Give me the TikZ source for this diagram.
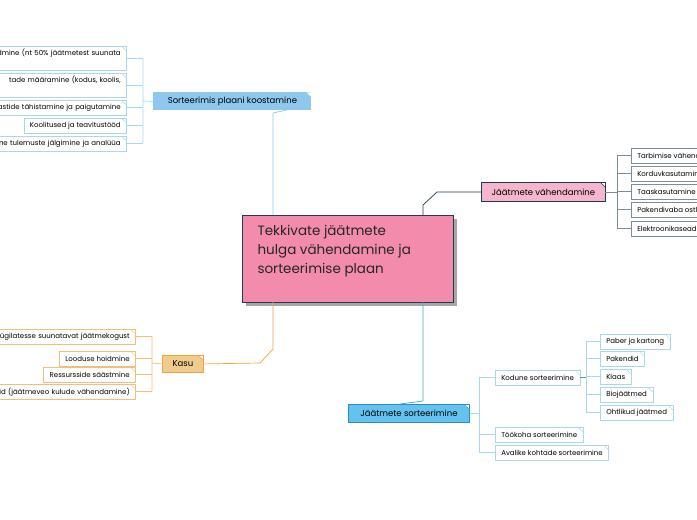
\documentclass[tikz,border=0pt]{standalone}
\usepackage{fontspec}
\setmainfont{Poppins}
\begin{document}
\begin{tikzpicture}[x=1pt,y=-1pt,
  fold/.style={path picture={
    \fill[white] ([xshift=-5pt]path picture bounding box.north east) -- (path picture bounding box.north east) -- ([yshift=-5pt]path picture bounding box.north east) -- cycle;
    \draw[#1,line width=0.5pt] ([xshift=-5pt]path picture bounding box.north east) -- ([yshift=-5pt]path picture bounding box.north east);}},
  leaf/.style={draw=#1,fill=white,line width=0.6pt,font=\fontsize{7}{9}\selectfont,minimum height=15,inner xsep=6,inner ysep=2,fold=#1},
  cut/.style={text width=#1,align=right},
  mid/.style={font=\fontsize{8.5}{10}\selectfont,minimum height=18,inner xsep=10,line width=0.8pt},
  con/.style={line width=0.7pt}]
\useasboundingbox (0,0) rectangle (697,520);
\definecolor{lb}{HTML}{A9D8EE}\definecolor{or}{HTML}{F2A040}
\definecolor{dk}{HTML}{1F3B52}\definecolor{tl}{HTML}{3AA7C8}\definecolor{gr}{HTML}{7A8E99}
% central
\fill[gray!70] (246,219) rectangle (457,306);
\node[draw=dk,fill={rgb,255:red,242;green,139;blue,172},line width=0.8pt,minimum width=211,minimum height=87,anchor=north west,inner sep=0] (c) at (242,215) {};
\node[anchor=north west,align=left,font=\fontsize{13.5}{19}\selectfont,text=black!85] (ct) at (254,222) {Tekkivate jäätmete\\hulga vähendamine ja\\sorteerimise plaan};
% Sorteerimis
\node[mid,fill={rgb,255:red,142;green,200;blue,238},fold=lb,anchor=north west,minimum width=158] (s) at (153,92) {Sorteerimis plaani koostamine};
\draw[con,color={rgb,255:red,142;green,200;blue,238}] (273,215) -- (273,113) -- (287,110);
\foreach \n/\y/\h/\w/\t in {s1/46/24/150/{admine (nt 50\% jäätmetest suunata\\\strut},s2/73/24/150/{tade määramine (kodus, koolis,\\\strut},s3/100/15/150/{kastide tähistamine ja paigutamine},s5/136/15/150/{arne tulemuste jälgimine ja analüüa}}{
  \node[leaf=lb,anchor=north east,minimum height=\h,cut=\w] (\n) at (127,\y) {\t};
  \draw[lb,con] (\n.east) -- (143,0 |- \n.east);}
\node[leaf=lb,anchor=north east] (s4) at (127,118) {Koolitused ja teavitustööd};
\draw[lb,con] (s4.east) -- (143,0 |- s4.east);
\draw[lb,con] (143,58) -- (143,143) (143,101) -- (s.west);
% Jäätmete vähendamine
\node[mid,draw=dk,fill={rgb,255:red,245;green,181;blue,204},fold=dk,anchor=north west,minimum width=124,minimum height=19] (v) at (481,182) {Jäätmete vähendamine};
\draw[dk,con] (423,215) -- (423,205) -- (437,192) -- (v.west);
\foreach \n/\y/\t in {v1/148/{Tarbimise vähendamine},v2/166/{Korduvkasutamine},v3/184/{Taaskasutamine},v4/202/{Pakendivaba ostlemine},v5/221/{Elektroonikaseadmete}}{
  \node[leaf=gr,anchor=north west] (\n) at (631,\y) {\t};
  \draw[gr,con] (\n.west) -- (617,0 |- \n.west);}
\draw[gr,con] (617,156) -- (617,228) (605,192) -- (617,192);
% Kasu
\node[mid,draw=or,fill={rgb,255:red,240;green,203;blue,142},fold=or,anchor=north west,minimum width=41,minimum height=17,inner xsep=5] (k) at (162,355) {Kasu};
\draw[or,con] (273,302) -- (273,349) -- (260,363) -- (k.east);
\foreach \n/\y/\t in {k1/329/{prügilatesse suunatavat jäätmekogust},k4/384/{hoid (jäätmeveo kulude vähendamine)}}{
  \node[leaf=or!70,anchor=north east,cut=160] (\n) at (136,\y) {\t};
  \draw[or!70,con] (\n.east) -- (152,0 |- \n.east);}
\foreach \n/\y/\t in {k2/351/{Looduse hoidmine},k3/367/{Ressursside säästmine}}{
  \node[leaf=or!70,anchor=north east] (\n) at (136,\y) {\t};
  \draw[or!70,con] (\n.east) -- (152,0 |- \n.east);}
\draw[or!70,con] (152,336) -- (152,391) (152,363) -- (k.west);
% Jäätmete sorteerimine
\node[mid,draw={rgb,255:red,42;green,143;blue,191},fill={rgb,255:red,99;green,195;blue,238},fold=tl,anchor=north west,minimum width=121] (j) at (348,404) {Jäätmete sorteerimine};
\draw[tl,con] (423,302) -- (423,401) -- (400,404);
\foreach \n/\y/\t in {j1/370/{Kodune sorteerimine},j2/427/{Töökoha sorteerimine},j3/445/{Avalike kohtade sorteerimine}}{
  \node[leaf=lb,anchor=north west] (\n) at (495,\y) {\t};
  \draw[lb,con] (\n.west) -- (479,0 |- \n.west);}
\draw[lb,con] (479,377) -- (479,452) (j.east) -- (479,0 |- j.east);
\foreach \n/\y/\t in {p1/334/{Paber ja kartong},p2/351/{Pakendid},p3/369/{Klaas},p4/387/{Biojäätmed},p5/405/{Ohtlikud jäätmed}}{
  \node[leaf=lb,anchor=north west] (\n) at (600,\y) {\t};
  \draw[lb,con] (\n.west) -- (586,0 |- \n.west);}
\draw[lb,con] (586,341) -- (586,413);
\draw[tl,line width=1.1pt] (j1.east) -- (586,0 |- j1.east);
\end{tikzpicture}
\end{document}
